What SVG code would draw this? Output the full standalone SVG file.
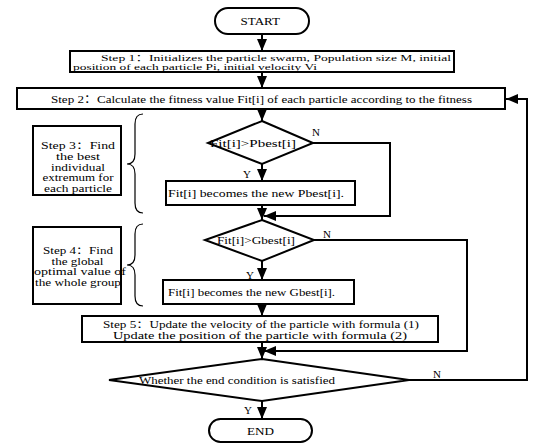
<svg xmlns="http://www.w3.org/2000/svg" width="550" height="445" viewBox="0 0 550 445">
<defs>
<marker id="ah" markerUnits="userSpaceOnUse" markerWidth="12" markerHeight="10" refX="12" refY="5" orient="auto">
<path d="M0,0 L12,5 L0,10 z" fill="#000"/>
</marker>
<style>
.box{fill:#fff;stroke:#000;stroke-width:2}
.ln{fill:none;stroke:#000;stroke-width:2}
.br{fill:none;stroke:#000;stroke-width:1.2}
.t{font-family:"Liberation Serif","Noto Sans CJK SC",serif;font-size:11px;fill:#000}
.s{font-size:10px}
.xs{font-size:9px}
.c{text-anchor:middle}
</style>
</defs>
<rect width="550" height="445" fill="#fff"/>
<g id="connectors">
<path class="ln" d="M262,34 V51" marker-end="url(#ah)"/>
<path class="ln" d="M262,72 V88" marker-end="url(#ah)"/>
<path class="ln" d="M262,109 V121" marker-end="url(#ah)"/>
<path class="ln" d="M262,164 V181" marker-end="url(#ah)"/>
<path class="ln" d="M262,205 V220" marker-end="url(#ah)"/>
<path class="ln" d="M313,143 H390 V216 H264" marker-end="url(#ah)"/>
<path class="ln" d="M262,261 V280" marker-end="url(#ah)"/>
<path class="ln" d="M262,304 V316" marker-end="url(#ah)"/>
<path class="ln" d="M314,240 H467 V351 H264" marker-end="url(#ah)"/>
<path class="ln" d="M262,342 V359" marker-end="url(#ah)"/>
<path class="ln" d="M262,401 V419" marker-end="url(#ah)"/>
<path class="ln" d="M409,380 H527 V99 H506" marker-end="url(#ah)"/>
<text class="t" x="312" y="136">N</text>
<text class="t" x="243" y="178">Y</text>
<text class="t" x="323" y="238">N</text>
<text class="t" x="246" y="279">Y</text>
<text class="t" x="433" y="378">N</text>
<text class="t" x="244" y="414">Y</text>
</g>
<g id="start">
<rect class="box" x="215" y="8" width="94" height="26" rx="13"/>
<text class="t" x="240.5" y="25" textLength="39.5" lengthAdjust="spacingAndGlyphs">START</text>
</g>
<g id="step1">
<rect class="box" x="70" y="51" width="384" height="21"/>
<text class="t xs" x="101" y="60.5" textLength="350" lengthAdjust="spacingAndGlyphs">Step 1：Initializes the particle swarm, Population size M, initial</text>
<text class="t xs" x="73" y="69.5" textLength="244" lengthAdjust="spacingAndGlyphs">position of each particle Pi, initial velocity Vi</text>
</g>
<g id="step2">
<rect class="box" x="17" y="88" width="488" height="21"/>
<text class="t" x="51" y="103" textLength="421" lengthAdjust="spacingAndGlyphs">Step 2：Calculate the fitness value Fit[i] of each particle according to the fitness</text>
</g>
<g id="step3">
<rect class="box" x="33" y="126" width="88" height="69"/>
<text class="t s c" x="78" y="149" textLength="74" lengthAdjust="spacingAndGlyphs">Step 3：Find</text>
<text class="t s c" x="78" y="160" textLength="44" lengthAdjust="spacingAndGlyphs">the best</text>
<text class="t s c" x="78" y="170.5" textLength="54" lengthAdjust="spacingAndGlyphs">individual</text>
<text class="t s c" x="78" y="181" textLength="71" lengthAdjust="spacingAndGlyphs">extremum for</text>
<text class="t s c" x="78" y="192" textLength="68" lengthAdjust="spacingAndGlyphs">each particle</text>
</g>
<path id="brace3" class="br" d="M143,114 Q135,114 135,124 V154 Q135,164 127,164 Q135,164 135,174 V203 Q135,213 143,213"/>
<g id="d1">
<polygon class="box" points="262,121 313,143 262,164 208,143"/>
<text class="t" x="210" y="147" textLength="86" lengthAdjust="spacingAndGlyphs">Fit[i]&gt;Pbest[i]</text>
</g>
<g id="pbest">
<rect class="box" x="166" y="181" width="189" height="24"/>
<text class="t" x="168" y="197" textLength="176" lengthAdjust="spacingAndGlyphs">Fit[i] becomes the new Pbest[i].</text>
</g>
<g id="step4">
<rect class="box" x="33" y="227" width="88" height="77"/>
<text class="t s" x="43" y="254" textLength="70" lengthAdjust="spacingAndGlyphs">Step 4：Find</text>
<text class="t s" x="51.5" y="264.5" textLength="52" lengthAdjust="spacingAndGlyphs">the global</text>
<text class="t s" x="34" y="275" textLength="92" lengthAdjust="spacingAndGlyphs">optimal value of</text>
<text class="t s" x="35" y="285.5" textLength="86" lengthAdjust="spacingAndGlyphs">the whole group</text>
</g>
<path id="brace4" class="br" d="M143,224 Q135,224 135,234 V255 Q135,265 127,265 Q135,265 135,275 V296 Q135,306 143,306"/>
<g id="d2">
<polygon class="box" points="262,220 314,240 262,261 205,240"/>
<text class="t" x="217" y="244" textLength="78" lengthAdjust="spacingAndGlyphs">Fit[i]&gt;Gbest[i]</text>
</g>
<g id="gbest">
<rect class="box" x="163" y="280" width="191" height="24"/>
<text class="t" x="168" y="296" textLength="167" lengthAdjust="spacingAndGlyphs">Fit[i] becomes the new Gbest[i].</text>
</g>
<g id="step5">
<rect class="box" x="82" y="316" width="356" height="26"/>
<text class="t s" x="103" y="328" textLength="316" lengthAdjust="spacingAndGlyphs">Step 5：Update the velocity of the particle with formula (1)</text>
<text class="t s" x="113" y="339" textLength="294" lengthAdjust="spacingAndGlyphs">Update the position of the particle with formula (2)</text>
</g>
<g id="d3">
<polygon class="box" points="262,359 409,380 262,401 109,380"/>
<text class="t" x="139" y="384" textLength="196" lengthAdjust="spacingAndGlyphs">Whether the end condition is satisfied</text>
</g>
<g id="end">
<rect class="box" x="209" y="419" width="103" height="23" rx="11.5"/>
<text class="t" x="247" y="435" textLength="27" lengthAdjust="spacingAndGlyphs">END</text>
</g>
</svg>
